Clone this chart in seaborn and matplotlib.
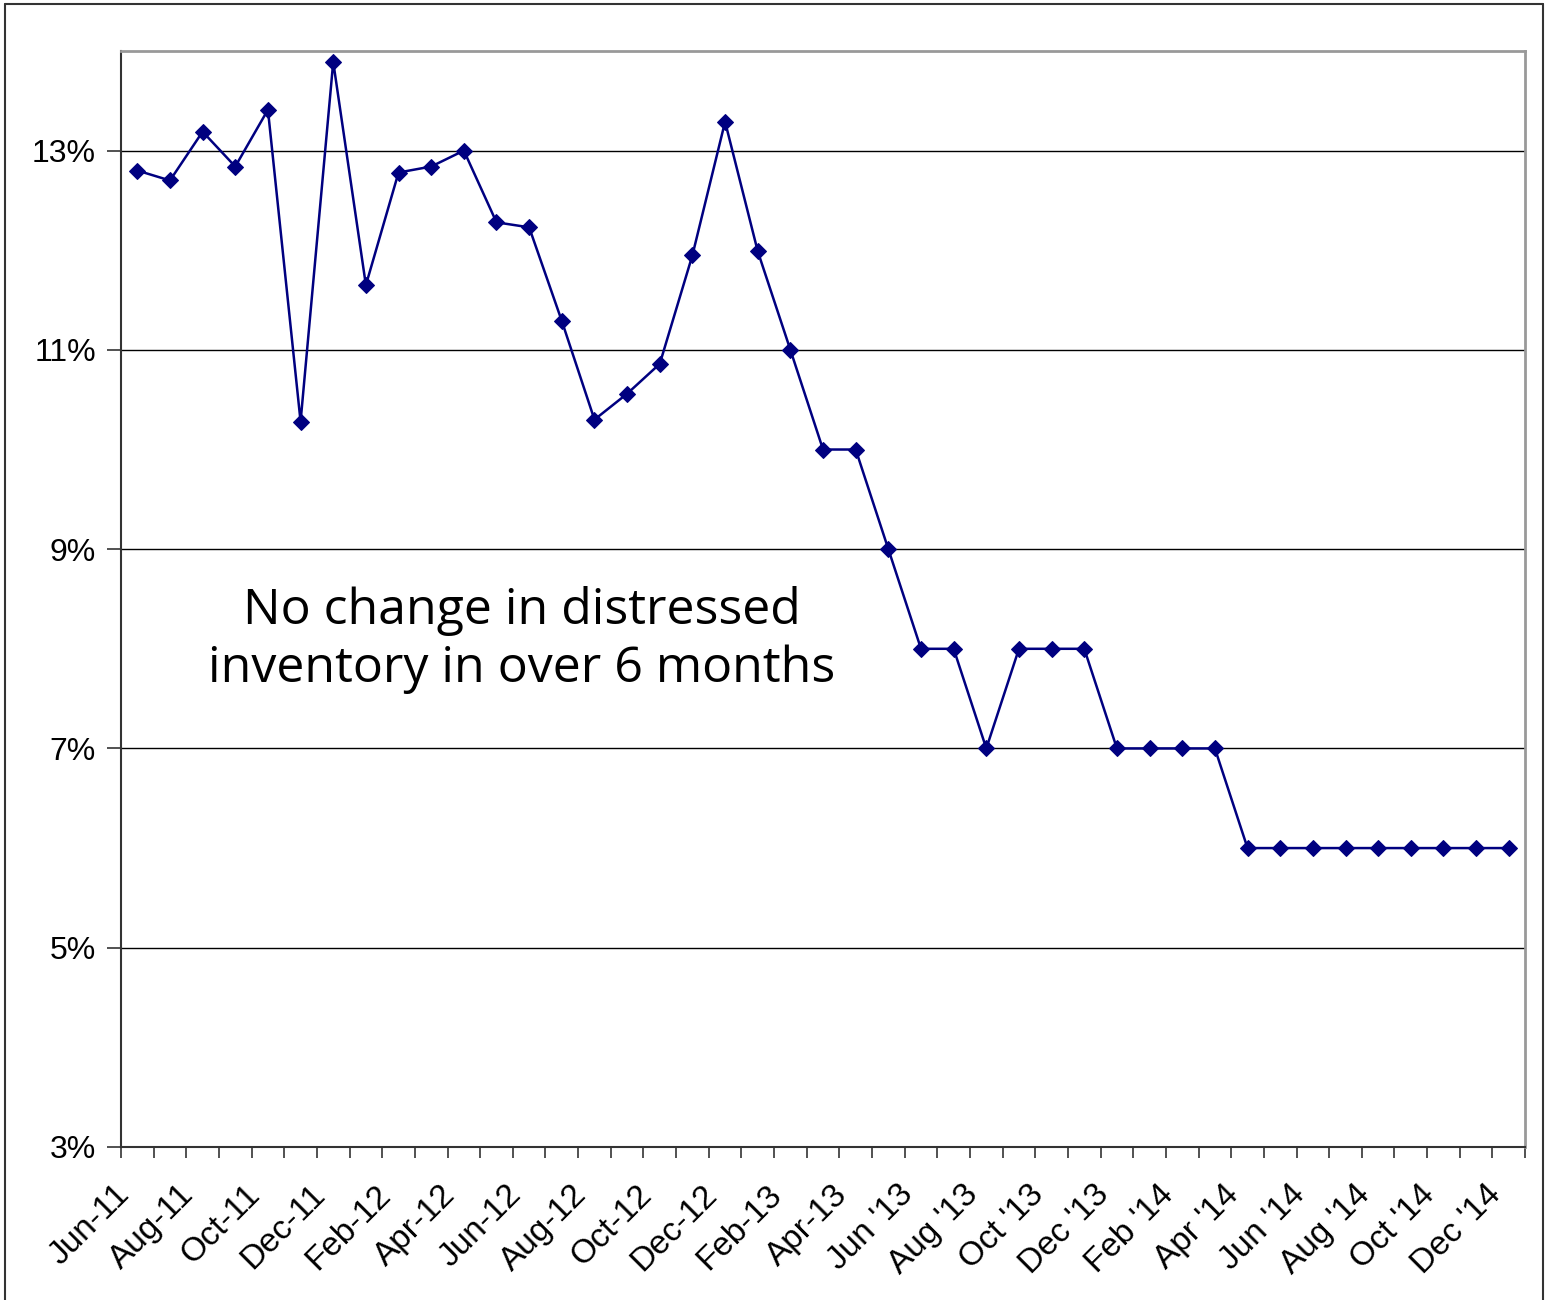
import numpy as np
import matplotlib
matplotlib.use("Agg")
import matplotlib.pyplot as plt
import matplotlib.transforms as mtransforms
import seaborn as sns
from matplotlib.lines import Line2D

sns.set_style("white")
plt.rcParams['font.family'] = ['Liberation Sans', 'DejaVu Sans']

# monthly values, Jun-11 .. Dec-14 (percent)
months = ['Jun-11', 'Jul-11', 'Aug-11', 'Sep-11', 'Oct-11', 'Nov-11', 'Dec-11',
          'Jan-12', 'Feb-12', 'Mar-12', 'Apr-12', 'May-12', 'Jun-12', 'Jul-12',
          'Aug-12', 'Sep-12', 'Oct-12', 'Nov-12', 'Dec-12', 'Jan-13', 'Feb-13',
          'Mar-13', 'Apr-13', 'May-13', "Jun '13", "Jul '13", "Aug '13", "Sep '13",
          "Oct '13", "Nov '13", "Dec '13", "Jan '14", "Feb '14", "Mar '14",
          "Apr '14", "May '14", "Jun '14", "Jul '14", "Aug '14", "Sep '14",
          "Oct '14", "Nov '14", "Dec '14"]
values = [12.8, 12.7, 13.19, 12.84, 13.41, 10.28, 13.89,
          11.65, 12.78, 12.84, 13.0, 12.28, 12.23, 11.29,
          10.3, 10.56, 10.86, 11.95, 13.29, 11.99, 11.0,
          10.0, 10.0, 9.0, 8.0, 8.0, 7.0, 8.0,
          8.0, 8.0, 7.0, 7.0, 7.0, 7.0,
          6.0, 6.0, 6.0, 6.0, 6.0, 6.0,
          6.0, 6.0, 6.0]
y_ticks = [3, 5, 7, 9, 11, 13]
note = "No change in distressed\ninventory in over 6 months"

n = len(months)
xpos = np.arange(n)

fig = plt.figure(figsize=(15.51, 13), dpi=100)
ax = fig.add_axes([0.078, 0.1177, 0.9053, 0.8431])

sns.lineplot(x=xpos, y=values, ax=ax, color='#000080', linewidth=1.8,
             marker='D', markersize=8.5, markeredgecolor='#000080')

ax.set_xlim(-0.5, n - 0.5)
ax.set_ylim(3, 14)

# y axis
ax.set_yticks(y_ticks)
ax.set_yticklabels([f"{v}%" for v in y_ticks], fontsize=23, color='black')
for v in y_ticks[1:]:
    ax.axhline(v, color='black', linewidth=1.0, zorder=0)

# x axis: tick marks at category boundaries, labels every 2 months at centers
ax.set_xticks(np.arange(n + 1) - 0.5)
ax.set_xticklabels([])
ax.set_xticks(xpos[::2], minor=True)
ax.set_xticklabels(months[::2], minor=True, fontsize=24, rotation=45,
                   ha='right', rotation_mode='anchor', color='black')
ax.tick_params(axis='x', which='major', direction='out', length=8, width=1.2,
               color='#333333', bottom=True)
ax.tick_params(axis='x', which='minor', length=0, pad=16)
ax.tick_params(axis='y', direction='out', length=10, width=1.2, color='#333333',
               left=True, pad=8)

# nudge the rotated labels so they end just left of each month
shift = mtransforms.ScaledTranslation(-24 / 100, -10 / 100, fig.dpi_scale_trans)
for lbl in ax.get_xticklabels(minor=True):
    lbl.set_transform(lbl.get_transform() + shift)

for side in ['left', 'bottom']:
    ax.spines[side].set_color('#333333')
    ax.spines[side].set_linewidth(1.5)
for side in ['top', 'right']:
    ax.spines[side].set_color('#999999')
    ax.spines[side].set_linewidth(2)

ax.set_xlabel('')
ax.set_ylabel('')

ax.text(0.2856, 0.4626, note, transform=ax.transAxes, ha='center', va='center',
        fontsize=36, color='black', family=['Open Sans', 'DejaVu Sans'],
        linespacing=1.25)

# outer frame of the picture
for xs, ys in [([0.003, 0.003], [0, 0.997]), ([0.003, 0.995], [0.997, 0.997]),
               ([0.995, 0.995], [0, 0.997])]:
    fig.add_artist(Line2D(xs, ys, transform=fig.transFigure, color='#333333',
                          linewidth=1.5))

fig.savefig('out.png', dpi=100)
